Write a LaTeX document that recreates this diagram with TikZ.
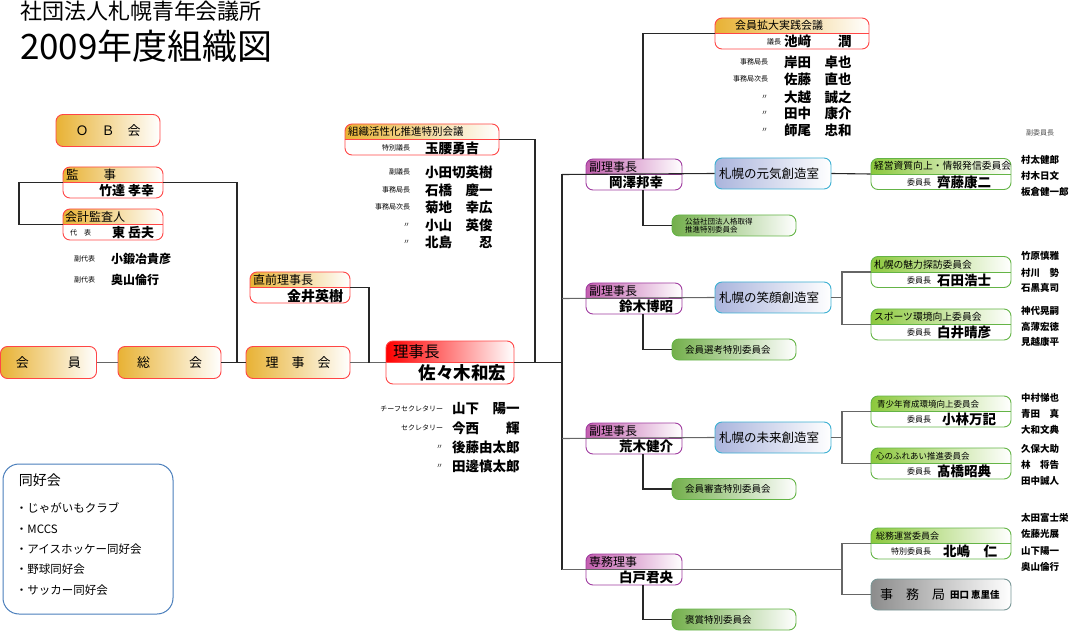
\documentclass[tikz,border=0pt]{standalone}
\usepackage{fontspec}
\setmainfont{Noto Sans CJK JP}
\usetikzlibrary{calc}
\definecolor{org}{RGB}{232,178,52}
\definecolor{redb}{RGB}{255,70,70}
\definecolor{purp}{RGB}{195,95,175}
\definecolor{purpb}{RGB}{160,60,160}
\definecolor{bluef}{RGB}{170,180,220}
\definecolor{blueb}{RGB}{60,175,210}
\definecolor{grnf}{RGB}{140,200,60}
\definecolor{grnb}{RGB}{100,180,70}
\definecolor{grns}{RGB}{115,175,75}
\definecolor{grayf}{RGB}{140,140,140}
\definecolor{grayb}{RGB}{120,150,150}
\definecolor{doub}{RGB}{74,126,187}
\definecolor{conn}{RGB}{40,40,40}
\newcommand\fsz[1]{\fontsize{#1}{#1}\selectfont}
\newcommand\splitbx[7]{%
 \begin{scope}
 \clip ({#2-#4/2-2},{#3-#5/2-2}) rectangle ({#2+#4/2+2},#3);
 \shade[left color=#6,right color=white,rounded corners=7pt] ({#2-#4/2},{#3-#5/2}) rectangle ({#2+#4/2},{#3+#5/2});
 \end{scope}
 \node[draw=#7,line width=0.9pt,rounded corners=7pt,minimum width=#4pt,minimum height=#5pt,inner sep=0pt] (#1) at (#2,#3) {};
 \draw[#7,line width=0.8pt] (#1.west) -- (#1.east);
}
\tikzset{
 box/.style={rounded corners=7pt,line width=0.9pt,inner sep=0pt},
 obox/.style={box,draw=redb,left color=org,right color=white,minimum width=#1pt,minimum height=32pt,font=\fsz{13}},
 room/.style={box,draw=blueb,left color=bluef,right color=white,minimum width=116pt,minimum height=31pt},
 gsmall/.style={box,draw=grnb,left color=grns,right color=white,minimum width=124pt,minimum height=21pt},
 txt/.style={inner sep=0pt,outer sep=0pt},
 lab/.style={txt,anchor=east,font=\fsz{7}},
 nm/.style={txt,anchor=west,font=\fsz{13.5}\bfseries},
 mem/.style={txt,anchor=west,font=\fsz{9.5}\bfseries},
 cn/.style={draw=conn,line width=1.1pt},
}
\begin{document}
\begin{tikzpicture}[x=1pt,y=-1pt]
\useasboundingbox (0,0) rectangle (1069,631);
% titles
\node[txt,anchor=west,font=\fsz{22}] (t1) at (20,11) {社団法人札幌青年会議所};
\node[txt,anchor=west,font=\fsz{35}] (t2) at (20,46) {2009年度組織図};
% left boxes
\node[obox=104] (ob) at (108,130.5) {Ｏ　Ｂ　会};
\node[obox=96] (kaiin) at (48.5,362.5) {会　　　員};
\node[obox=103] (sokai) at (169.5,362.5) {総　　　会};
\node[obox=104] (rijikai) at (298,362.5) {理　事　会};
\splitbx{kanji}{113}{182.5}{100}{31}{org}{redb}
\node[txt,anchor=west,font=\fsz{12.5}] (kanjih) at (66,175) {監　　事};
\node[txt,anchor=east,font=\fsz{13}\bfseries] (kanjin) at (154,191) {竹達 孝幸};
\splitbx{kaikei}{113}{224.5}{100}{31}{org}{redb}
\node[txt,anchor=west,font=\fsz{12}] (kaikeih) at (65,217) {会計監査人};
\node[txt,anchor=west,font=\fsz{7}] (kaikeil) at (70,233) {代　表};
\node[txt,anchor=east,font=\fsz{13}\bfseries] (kaikein) at (154,233) {東 岳夫};
\node[lab] (fd1l) at (95,259) {副代表};
\node[txt,anchor=west,font=\fsz{12}\bfseries] (fd1n) at (111,259) {小鍛冶貴彦};
\node[lab] (fd2l) at (95,280) {副代表};
\node[txt,anchor=west,font=\fsz{12}\bfseries] (fd2n) at (111,280) {奥山倫行};
% chokuzen
\splitbx{chokuzen}{300}{287.5}{100}{31}{org}{redb}
\node[txt,anchor=west,font=\fsz{12}] (chokuzenh) at (253,280) {直前理事長};
\node[txt,anchor=east,font=\fsz{14}\bfseries] (chokuzenn) at (343,296) {金井英樹};
% soshiki
\splitbx{soshiki}{422}{139.5}{154}{31}{org}{redb}
\node[txt,anchor=west,font=\fsz{10.5}] (soshikih) at (348,132) {組織活性化推進特別会議};
\node[lab] (soshikil) at (410,148) {特別議長};
\node[nm] (soshikin) at (425,148) {玉腰勇吉};
\node[lab] (s1l) at (410,172) {副議長};
\node[nm] (s1n) at (425,172) {小田切英樹};
\node[lab] (s2l) at (410,190) {事務局長};
\node[nm] (s2n) at (425,190) {石橋　慶一};
\node[lab] (s3l) at (410,207) {事務局次長};
\node[nm] (s3n) at (425,207) {菊地　幸広};
\node[lab] (s4l) at (410,225) {〃};
\node[nm] (s4n) at (425,225) {小山　英俊};
\node[lab] (s5l) at (410,242) {〃};
\node[nm] (s5n) at (425,242) {北島　　忍};
% richo
\splitbx{richo}{450}{362.5}{128}{43}{red}{redb}
\node[txt,anchor=west,font=\fsz{15.5}] (richoh) at (393,351.5) {理事長};
\node[txt,anchor=east,font=\fsz{17.5}\bfseries] (richon) at (506,373) {佐々木和宏};
\node[lab] (r1l) at (443,409) {チーフセクレタリー};
\node[nm] (r1n) at (452,409) {山下　陽一};
\node[lab] (r2l) at (443,428) {セクレタリー};
\node[nm] (r2n) at (452,428) {今西　　輝};
\node[lab] (r3l) at (443,447) {〃};
\node[nm] (r3n) at (452,447) {後藤由太郎};
\node[lab] (r4l) at (443,466) {〃};
\node[nm] (r4n) at (452,466) {田邊慎太郎};
% kakudai
\splitbx{kakudai}{792}{33.5}{154}{31}{org}{redb}
\node[txt,anchor=west,font=\fsz{11}] (kakudaih) at (735,25.5) {会員拡大実践会議};
\node[lab] (kakudail) at (781,41.5) {議長};
\node[nm] (kakudain) at (784,41.5) {池﨑　　潤};
\node[lab] (k1l) at (768,62) {事務局長};
\node[nm] (k1n) at (784,62) {岸田　卓也};
\node[lab] (k2l) at (768,79) {事務局次長};
\node[nm] (k2n) at (784,79) {佐藤　直也};
\node[lab] (k3l) at (768,97) {〃};
\node[nm] (k3n) at (784,97) {大越　誠之};
\node[lab] (k4l) at (768,113) {〃};
\node[nm] (k4n) at (784,113) {田中　康介};
\node[lab] (k5l) at (768,130) {〃};
\node[nm] (k5n) at (784,130) {師尾　忠和};
% vice presidents
\splitbx{fuku1}{634}{174.5}{96}{31}{purp}{purpb}
\node[txt,anchor=west,font=\fsz{12}] (fuku1h) at (589,167) {副理事長};
\node[txt,anchor=east,font=\fsz{13.5}\bfseries] (fuku1n) at (663,182.5) {岡澤邦幸};
\splitbx{fuku2}{634}{298.5}{96}{31}{purp}{purpb}
\node[txt,anchor=west,font=\fsz{12}] (fuku2h) at (589,291) {副理事長};
\node[txt,anchor=east,font=\fsz{13.5}\bfseries] (fuku2n) at (673,306.5) {鈴木博昭};
\splitbx{fuku3}{634}{438.5}{96}{31}{purp}{purpb}
\node[txt,anchor=west,font=\fsz{12}] (fuku3h) at (589,431) {副理事長};
\node[txt,anchor=east,font=\fsz{13.5}\bfseries] (fuku3n) at (673,446.5) {荒木健介};
\splitbx{senmu}{634}{569.5}{96}{31}{purp}{purpb}
\node[txt,anchor=west,font=\fsz{12}] (senmuh) at (589,562) {専務理事};
\node[txt,anchor=east,font=\fsz{13.5}\bfseries] (senmun) at (673,577.5) {白戸君央};
% rooms
\node[room] (rm1) at (773,173.5) {};
\node[txt,anchor=west,font=\fsz{12.5}] (rm1t) at (719,173.5) {札幌の元気創造室};
\node[room] (rm2) at (773,297.5) {};
\node[txt,anchor=west,font=\fsz{12.5}] (rm2t) at (719,297.5) {札幌の笑顔創造室};
\node[room] (rm3) at (773,437.5) {};
\node[txt,anchor=west,font=\fsz{12.5}] (rm3t) at (719,437.5) {札幌の未来創造室};
% small green boxes
\node[gsmall] (g1) at (734,225.5) {};
\node[txt,anchor=west,font=\fsz{7.5},align=left] (g1t) at (685,225.5) {公益社団法人格取得\\推進特別委員会};
\node[gsmall] (g2) at (734,349.5) {};
\node[txt,anchor=west,font=\fsz{9.5}] (g2t) at (685,349.5) {会員選考特別委員会};
\node[gsmall] (g3) at (734,489) {};
\node[txt,anchor=west,font=\fsz{9.5}] (g3t) at (685,489) {会員審査特別委員会};
\node[gsmall] (g4) at (734,619.5) {};
\node[txt,anchor=west,font=\fsz{9.5}] (g4t) at (685,619.5) {褒賞特別委員会};
% committees
\splitbx{c1}{941}{174}{140}{31}{grnf}{grnb}
\node[txt,anchor=west,font=\fsz{9.8}] (c1h) at (874,166) {経営資質向上・情報発信委員会};
\node[txt,anchor=west,font=\fsz{8}] (c1l) at (907,182) {委員長};
\node[nm] (c1n) at (937,182) {齊藤康二};
\splitbx{c2}{941}{272}{140}{31}{grnf}{grnb}
\node[txt,anchor=west,font=\fsz{9.8}] (c2h) at (874,264.5) {札幌の魅力探訪委員会};
\node[txt,anchor=west,font=\fsz{8}] (c2l) at (907,280) {委員長};
\node[nm] (c2n) at (937,280) {石田浩士};
\splitbx{c3}{941}{324.5}{140}{31}{grnf}{grnb}
\node[txt,anchor=west,font=\fsz{9.8}] (c3h) at (874,316.5) {スポーツ環境向上委員会};
\node[txt,anchor=west,font=\fsz{8}] (c3l) at (907,332.5) {委員長};
\node[nm] (c3n) at (937,332.5) {白井晴彦};
\splitbx{c4}{941}{411.5}{140}{31}{grnf}{grnb}
\node[txt,anchor=west,font=\fsz{8.5}] (c4h) at (877,404) {青少年育成環境向上委員会};
\node[txt,anchor=west,font=\fsz{8}] (c4l) at (907,419.5) {委員長};
\node[nm] (c4n) at (942,419.5) {小林万記};
\splitbx{c5}{941}{463.5}{140}{31}{grnf}{grnb}
\node[txt,anchor=west,font=\fsz{8.5}] (c5h) at (876,456) {心のふれあい推進委員会};
\node[txt,anchor=west,font=\fsz{8}] (c5l) at (907,471.5) {委員長};
\node[nm] (c5n) at (937,471.5) {髙橋昭典};
\splitbx{c6}{941}{543.5}{140}{31}{grnf}{grnb}
\node[txt,anchor=west,font=\fsz{9}] (c6h) at (876,536) {総務運営委員会};
\node[txt,anchor=west,font=\fsz{8}] (c6l) at (891,551.5) {特別委員長};
\node[nm] (c6n) at (943,551.5) {北嶋　仁};
\node[box,draw=grayb,left color=grayf,right color=white,minimum width=140pt,minimum height=31pt] (jimu) at (941,594.5) {};
\node[txt,anchor=west,font=\fsz{13}] (jimut) at (880,594.5) {事　務　局};
\node[txt,anchor=west,font=\fsz{9.5}\bfseries] (jimun) at (950,594.5) {田口 恵里佳};
% member lists
\node[txt,anchor=west,font=\fsz{7},text=black!70] (fkh) at (1026,133) {副委員長};
\node[mem] (m11) at (1021,160) {村太健郎};
\node[mem] (m12) at (1021,176) {村木日文};
\node[mem] (m13) at (1021,192) {板倉健一郎};
\node[mem] (m21) at (1021,256) {竹原慎雅};
\node[mem] (m22) at (1021,273) {村川　勢};
\node[mem] (m23) at (1021,288) {石黒真司};
\node[mem] (m31) at (1021,311) {神代晃嗣};
\node[mem] (m32) at (1021,327) {高薄宏徳};
\node[mem] (m33) at (1021,342) {見越康平};
\node[mem] (m41) at (1021,398) {中村悌也};
\node[mem] (m42) at (1021,414) {青田　真};
\node[mem] (m43) at (1021,430) {大和文典};
\node[mem] (m51) at (1021,449) {久保大助};
\node[mem] (m52) at (1021,465) {林　将告};
\node[mem] (m53) at (1021,481) {田中誠人};
\node[mem] (m61) at (1021,518) {太田富士栄};
\node[mem] (m62) at (1021,534) {佐藤光展};
\node[mem] (m63) at (1021,551) {山下陽一};
\node[mem] (m64) at (1021,567) {奥山倫行};
% doukoukai
\node[draw=doub,line width=1pt,rounded corners=16pt,minimum width=170pt,minimum height=150pt,inner sep=0pt] (doko) at (88,539) {};
\node[txt,anchor=west,font=\fsz{14}] (dokoh) at (19,480) {同好会};
\node[txt,anchor=west,font=\fsz{11.5}] (d1) at (16,508) {・じゃがいもクラブ};
\node[txt,anchor=west,font=\fsz{11.5}] (d2) at (16,529) {・MCCS};
\node[txt,anchor=west,font=\fsz{11.5}] (d3) at (16,549) {・アイスホッケー同好会};
\node[txt,anchor=west,font=\fsz{11.5}] (d4) at (16,569) {・野球同好会};
\node[txt,anchor=west,font=\fsz{11.5}] (d5) at (16,590) {・サッカー同好会};
% junction coordinates
\coordinate (kL) at (19,182.5);
\coordinate (J1) at (237,362.5);
\coordinate (J2) at (369,362.5);
\coordinate (J3) at (535,362.5);
\coordinate (T0) at (562,362.5);
\coordinate (T1) at (562,174.5);
\coordinate (T2) at (562,298.5);
\coordinate (T3) at (562,438.5);
\coordinate (T4) at (562,569.5);
\coordinate (U1) at (643,159);
\coordinate (D1) at (643,190);
\coordinate (D2) at (643,314);
\coordinate (D3) at (643,454);
\coordinate (D4) at (643,585);
\coordinate (B2) at (842,297.5);
\coordinate (B3) at (842,437.5);
\coordinate (B4) at (842,569.5);
% connectors
\draw[cn,draw=black!60] (kaiin.east) -- (sokai.west);
\draw[cn] (sokai.east) -- (rijikai.west);
\draw[cn] (kaikei.west) -| (kL) -- (kanji.west);
\draw[cn] (kanji.east) -| (J1);
\draw[cn,draw=black!60] (rijikai.east) -- (richo.west);
\draw[cn] (chokuzen.east) -| (J2);
\draw[cn] (soshiki.east) -| (J3);
\draw[cn] (richo.east) -- (T0);
\draw[cn] (T1) -- (T4);
\draw[cn] (T1) -- (rm1.west);
\draw[cn,draw=black!60] (T2) -- (rm2.west);
\draw[cn,draw=black!60] (T3) -- (rm3.west);
\draw[cn,draw=black!60] (T4) -- (B4);
\draw[cn] (kakudai.west) -| (U1);
\draw[cn] (D1) |- (g1.west);
\draw[cn] (D2) |- (g2.west);
\draw[cn] (D3) |- (g3.west);
\draw[cn] (D4) |- (g4.west);
\draw[cn] (rm1.east) -- (c1.west);
\draw[cn,draw=black!60] (rm2.east) -- (B2);
\draw[cn,draw=black!60] (c2.west) -| (B2) |- (c3.west);
\draw[cn,draw=black!60] (rm3.east) -- (B3);
\draw[cn,draw=black!60] (c4.west) -| (B3) |- (c5.west);
\draw[cn,draw=black!60] (c6.west) -| (B4) |- (jimu.west);
\end{tikzpicture}
\end{document}
